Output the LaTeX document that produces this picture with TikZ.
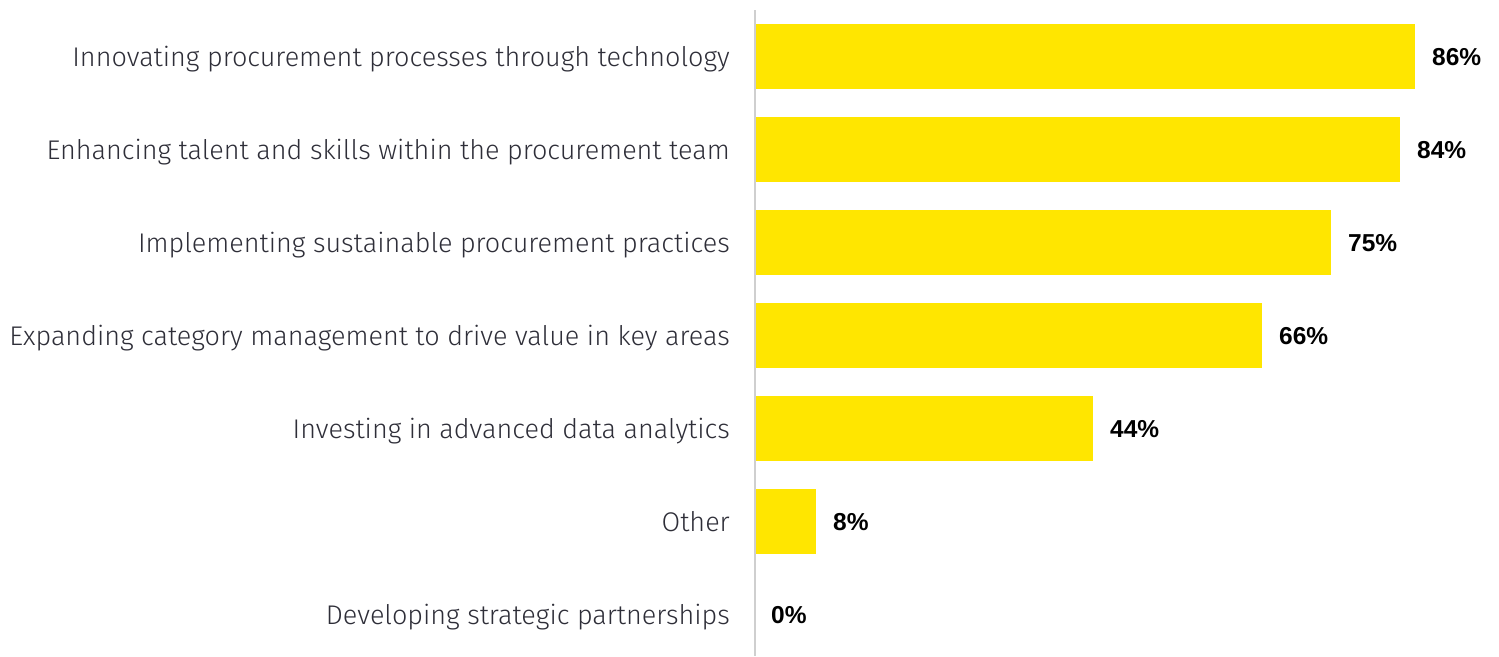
\documentclass[tikz,border=0pt]{standalone}
\usepackage{fontspec}
\setmainfont{Liberation Sans}
\newfontfamily\lightfont{Fira Sans Light}
\usepackage{xcolor}
\definecolor{eyyellow}{HTML}{FFE600}
\definecolor{eytext}{HTML}{2E2E38}
\definecolor{eyaxis}{HTML}{CFCFCF}

\begin{document}
\begin{tikzpicture}[x=1pt,y=-1pt,
  bar/.style={fill=eyyellow,draw=none},
  cat/.style={anchor=base east,inner sep=0pt,text=eytext,font=\lightfont\fontsize{27}{31}\selectfont},
  val/.style={anchor=base west,inner sep=0pt,text=black,font=\bfseries\fontsize{24.5}{29}\selectfont}]
  \useasboundingbox (0,0) rectangle (1499,656);
  \draw[eyaxis,line width=1.5pt](755,10)--(755,656);
  % bars
  \fill[bar](756,24) rectangle (1415,89);
  \fill[bar](756,117) rectangle (1400,182);
  \fill[bar](756,210) rectangle (1331,275);
  \fill[bar](756,303) rectangle (1262,368);
  \fill[bar](756,396) rectangle (1093,461);
  \fill[bar](756,489) rectangle (816,554);
  % categories
  \node[cat] (c1) at (730, 66) {Innovating procurement processes through technology};
  \node[cat] (c2) at (730,159) {Enhancing talent and skills within the procurement team};
  \node[cat] (c3) at (730,252) {Implementing sustainable procurement practices};
  \node[cat] (c4) at (730,345) {Expanding category management to drive value in key areas};
  \node[cat] (c5) at (730,438) {Investing in advanced data analytics};
  \node[cat] (c6) at (730,531) {Other};
  \node[cat] (c7) at (730,624) {Developing strategic partnerships};
  % values
  \node[val] (v1) at (1432, 65) {86\%};
  \node[val] (v2) at (1417,158) {84\%};
  \node[val] (v3) at (1348,251) {75\%};
  \node[val] (v4) at (1279,344) {66\%};
  \node[val] (v5) at (1110,437) {44\%};
  \node[val] (v6) at (833,530) {8\%};
  \node[val] (v7) at (771,623) {0\%};
\end{tikzpicture}
\end{document}
